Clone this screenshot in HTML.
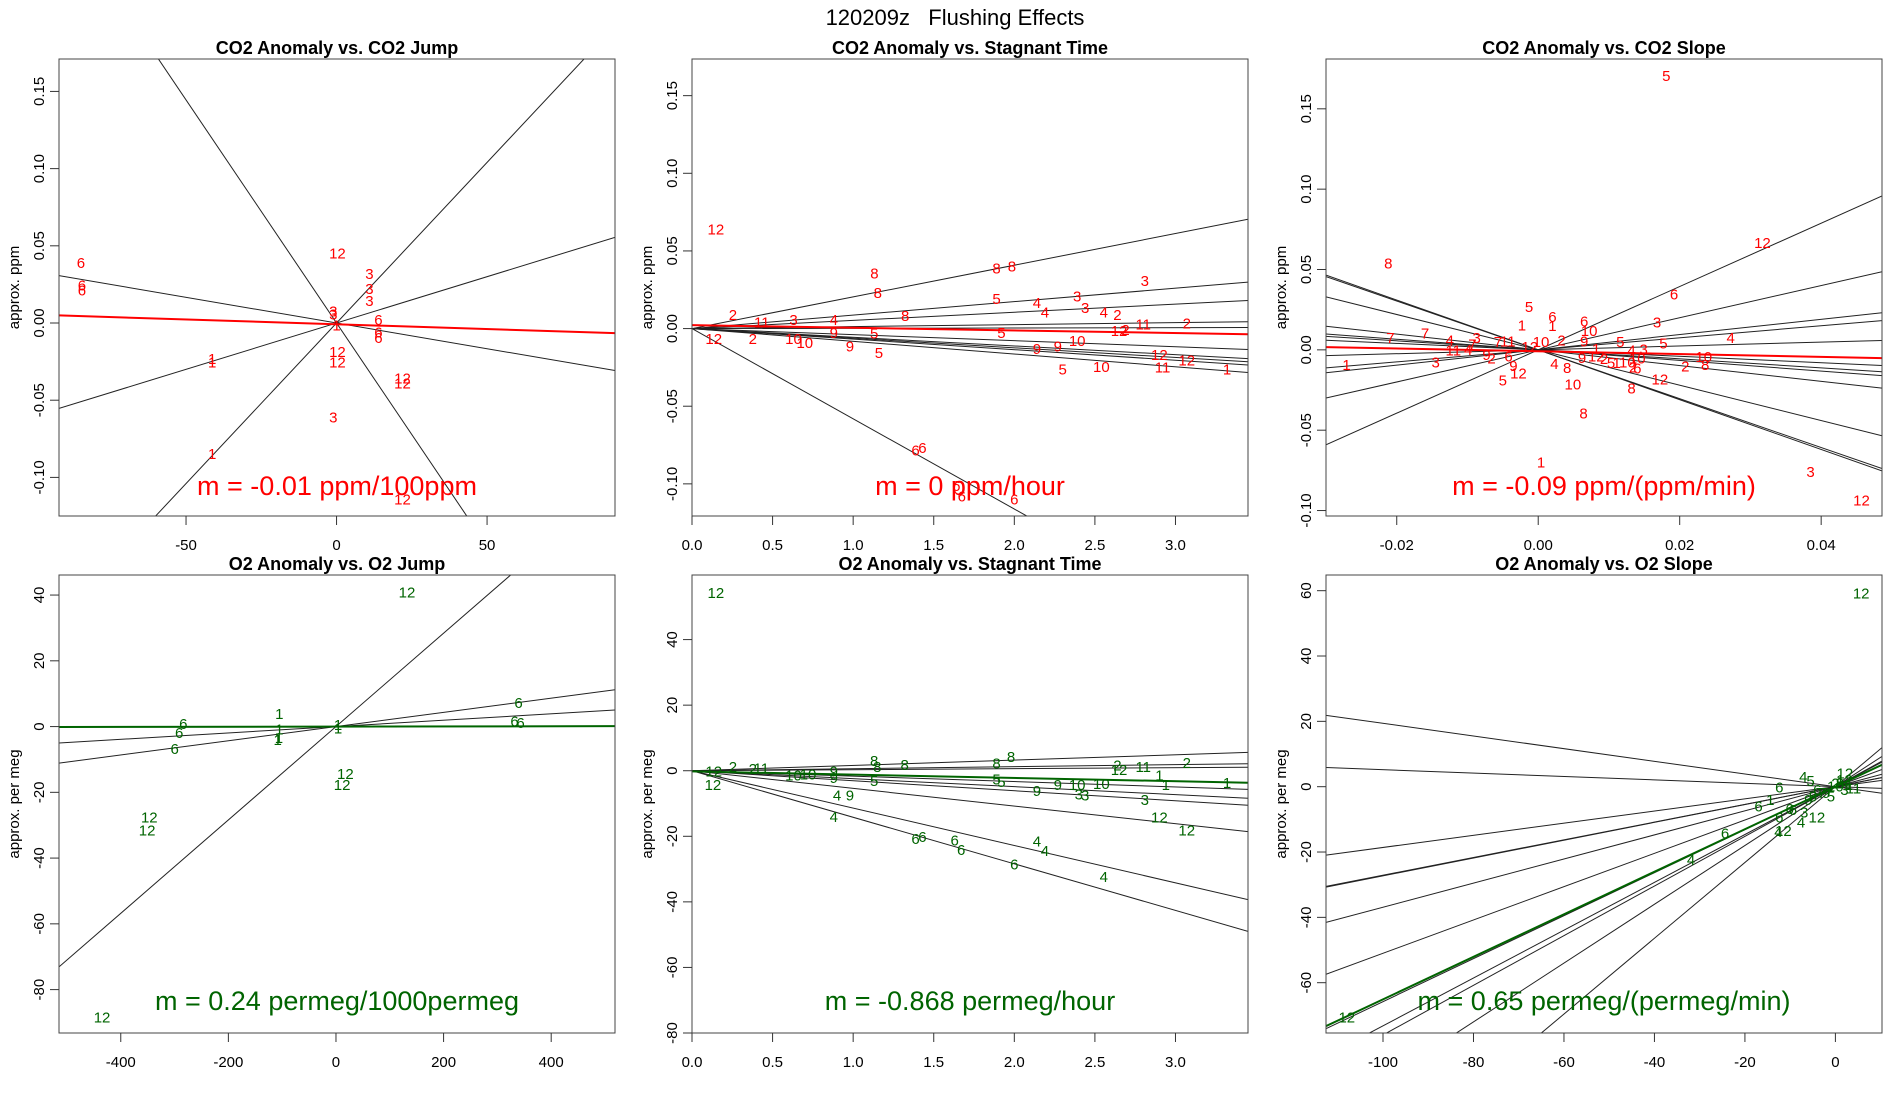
<!DOCTYPE html>
<html><head><meta charset="utf-8"><title>120209z Flushing Effects</title>
<style>
html,body{margin:0;padding:0;background:#fff;width:1900px;height:1100px;overflow:hidden;}
svg{display:block;font-family:"Liberation Sans",Arial,sans-serif;}
</style></head>
<body>
<svg id="fig" width="1900" height="1100" viewBox="0 0 1900 1100" xmlns="http://www.w3.org/2000/svg">
<rect width="1900" height="1100" fill="#fff"/>
<text x="955" y="25" font-size="22" text-anchor="middle" style="white-space:pre">120209z   Flushing Effects</text>
</svg>
<script>
// ---------- Panel 1: CO2 Anomaly vs CO2 Jump ----------
const p1Labels = ["6","6","6","12","3","3","3","3","3","1","6","6","6","1","1","12","12","12","12","3","1","12"];
const p1X = [-84.9,-84.6,-84.6,0.3,10.9,10.9,10.9,-1.1,-1.1,0,13.9,13.9,13.9,-41.3,-41.3,0.3,0.3,21.9,21.9,-1.1,-41.3,21.9];
const p1Y = [0.0388,0.0242,0.0212,0.0451,0.0319,0.0219,0.0144,0.0075,0.0055,-0.0016,0.0018,-0.0062,-0.0096,-0.0233,-0.0255,-0.0187,-0.0255,-0.0358,-0.0392,-0.0613,-0.0848,-0.1144];
const p1Slopes = [-0.00289,0.00208,0.0006,-0.000333];
const p1Ints = [0,0,0,0];
const p1Fit = [-0.000062,-0.0008];
const p1XTicks = [-50,0,50];
const p1YTicks = [-0.10,-0.05,0.00,0.05,0.10,0.15];

// ---------- Panel 2: CO2 Anomaly vs Stagnant Time ----------
const p2Labels = ["12","8","8","8","8","3","5","4","4","3","3","4","2","8","2","11","3","4","11","2","12","2","5","5","9","12","2","10","10","9","5","10","9","9","12","12","5","10","11","1","6","6","6","6","6"];
const p2X = [0.148,1.132,1.153,1.89,1.985,2.81,1.89,2.14,2.19,2.39,2.44,2.555,2.64,1.323,0.254,0.433,0.63,0.88,2.80,3.07,2.65,2.69,1.13,1.92,0.88,0.135,0.377,0.63,0.70,0.98,1.16,2.39,2.14,2.27,2.9,3.07,2.30,2.54,2.92,3.32,1.387,1.43,1.64,1.674,2.0];
const p2Y = [0.0638,0.0356,0.0229,0.0386,0.04,0.0306,0.019,0.0164,0.0103,0.0207,0.0131,0.0103,0.0087,0.0081,0.0087,0.0039,0.0055,0.0055,0.0026,0.0033,-0.0015,-0.0008,-0.0033,-0.0028,-0.0028,-0.0066,-0.0066,-0.0066,-0.0092,-0.0116,-0.0157,-0.0081,-0.0131,-0.0116,-0.017,-0.0207,-0.0262,-0.0247,-0.0251,-0.0262,-0.0786,-0.0769,-0.1015,-0.108,-0.110];
const p2Slopes = [0.0204,0.00867,0.00525,0.00127,0.0002,-0.0039,-0.0056,-0.0062,-0.0068,-0.0082,-0.0581];
const p2Ints = [0,0,0,0,0,0,0,0,0,0,0];
const p2Fit = [-0.0017,0.0022];
const p2XTicks = [0.0,0.5,1.0,1.5,2.0,2.5,3.0];
const p2YTicks = [-0.10,-0.05,0.00,0.05,0.10,0.15];

// ---------- Panel 3: CO2 Anomaly vs CO2 Slope ----------
const p3Labels = ["5","12","8","6","3","5","1","6","1","6","10","7","7","4","3","7","11","4","7","11","12","10","2","9","5","4","5","1","4","3","1","3","9","2","6","9","12","2","5","1","10","10","2","6","2","10","8","4","8","9","12","5","12","10","8","8","1","3","12"];
const p3X = [0.0181,0.0317,-0.0212,0.0192,0.0168,-0.0013,-0.0023,0.002,0.002,0.0065,0.0072,-0.0209,-0.016,-0.0125,-0.0087,-0.0093,-0.012,-0.0099,-0.0057,-0.0043,-0.0012,0.0004,0.0033,0.0065,0.0116,0.0272,0.0177,0.0082,0.0132,0.0149,-0.0271,-0.0145,-0.0073,-0.0066,-0.0042,0.0062,0.0082,0.0093,0.0103,0.0111,0.0126,0.014,0.0134,0.014,0.0208,0.0234,0.0236,0.0023,0.0041,-0.0035,-0.0028,-0.005,0.0172,0.0049,0.0132,0.0064,0.0004,0.0385,0.0457];
const p3Y = [0.1705,0.0665,0.0538,0.0344,0.0171,0.0266,0.015,0.0203,0.0148,0.0175,0.0116,0.0074,0.0101,0.0059,0.0074,0.0032,-0.0004,0,0.0049,0.0053,0.0017,0.0049,0.0059,0.0053,0.0049,0.0074,0.0038,0.0006,-0.0004,0.0002,-0.0095,-0.0078,-0.0032,-0.0053,-0.004,-0.0051,-0.004,-0.0057,-0.0082,-0.0082,-0.0078,-0.0053,-0.011,-0.0116,-0.0103,-0.0046,-0.0095,-0.0089,-0.0114,-0.0099,-0.0146,-0.019,-0.0184,-0.0215,-0.024,-0.0395,-0.070,-0.076,-0.0937];
const p3Slopes = [-1.52,-1.55,-1.10,1.97,1.0,-0.49,-0.33,-0.28,-0.20,0.12,0.375,0.475];
const p3Ints = [0,0,0,0,0,0,0,0,0,0,0,0];
const p3Fit = [-0.087,-0.0009];
const p3XTicks = [-0.02,0.00,0.02,0.04];
const p3YTicks = [-0.10,-0.05,0.00,0.05,0.10,0.15];

// ---------- Panel 4: O2 Anomaly vs O2 Jump ----------
const p4Labels = ["12","6","1","6","6","1","1","1","1","1","6","6","6","12","12","12","12","12"];
const p4X = [132,339.4,-105.3,-283.8,-291.4,-105.3,-108.3,-106,3.8,3.8,331.8,343,-299.8,17.5,11.4,-347,-351,-434.8];
const p4Y = [40.75,7.19,3.75,0.75,-1.93,-0.86,-4.07,-3.5,0.5,-0.6,1.5,1.07,-6.86,-14.4,-17.8,-27.7,-31.6,-88.5];
const p4Slopes = [0.142,0.0216,0.0097];
const p4Ints = [0,0,0];
const p4Fit = [0.00024,0];
const p4XTicks = [-400,-200,0,200,400];
const p4YTicks = [-80,-60,-40,-20,0,20,40];

// ---------- Panel 5: O2 Anomaly vs Stagnant Time ----------
const p5Labels = ["12","8","8","8","8","8","2","11","2","2","11","2","12","1","1","1","9","9","10","10","5","5","5","9","10","10","9","3","3","3","4","9","4","12","12","6","6","6","6","4","4","6","4","12","12"];
const p5X = [0.148,1.13,1.15,1.32,1.89,1.98,0.254,0.43,0.377,3.07,2.8,2.64,2.65,2.9,2.94,3.32,0.88,0.88,0.63,0.72,1.13,1.89,1.92,2.27,2.39,2.54,2.14,2.4,2.44,2.81,0.9,0.98,0.88,2.9,3.07,1.387,1.43,1.63,1.67,2.14,2.19,2.0,2.555,0.13,0.135];
const p5Y = [54.2,2.9,1.08,1.8,2.15,4.2,1.08,0.75,0.5,2.4,1.08,1.6,0.2,-1.4,-4.4,-3.8,-0.3,-2.26,-1.4,-1.1,-3.2,-2.7,-3.5,-4.4,-4.4,-4.1,-6.2,-7.3,-7.5,-8.9,-7.5,-7.5,-14.1,-14.3,-18.3,-20.75,-20.2,-21.3,-24.2,-21.6,-24.5,-28.6,-32.4,-4.3,-0.3];
const p5Slopes = [1.62,0.62,0.31,-1.65,-2.43,-3.05,-5.39,-11.4,-14.2];
const p5Ints = [0,0,0,0,0,0,0,0,0];
const p5Fit = [-1.0,-0.2];
const p5XTicks = [0.0,0.5,1.0,1.5,2.0,2.5,3.0];
const p5YTicks = [-80,-60,-40,-20,0,20,40];

// ---------- Panel 6: O2 Anomaly vs O2 Slope ----------
const p6Labels = ["12","12","4","6","6","1","6","6","4","12","4","12","6","6","3","4","5","12","6","9","10","8","3","1","5","7","11","2","12","8","9"];
const p6X = [5.7,-108,-31.9,-24.4,-12.4,-14.4,-17,-12.4,-12.6,-11.5,-7.6,-4.1,-10.1,-9.4,-6.9,-7.1,-5.5,2.1,-4,-2,0,1,2,3,-1,-3,4,0,2,-5,-6];
const p6Y = [59.1,-70.6,-22.4,-14.3,-0.3,-4.1,-6,-9.5,-13.8,-13.5,-10.9,-9.5,-6.8,-7.1,-7.9,2.9,1.8,4,-1,-2,0,1,-1,0.5,-3,-2,-0.5,1,2,-3,-4];
const p6Slopes = [-0.194,-0.052,0.186,0.271,0.273,0.369,0.51,0.658,0.732,0.76,0.90,1.16];
const p6Ints = [0,0,0,0,0,0,0,0,0,0,0,0];
const p6Fit = [0.651,0];
const p6XTicks = [-100,-80,-60,-40,-20,0];
const p6YTicks = [-60,-40,-20,0,20,40,60];

const NS = "http://www.w3.org/2000/svg";
const svg = document.getElementById('fig');
function mk(tag, attrs, parent){
  const e = document.createElementNS(NS, tag);
  for (const k in attrs) e.setAttribute(k, attrs[k]);
  (parent||svg).appendChild(e);
  return e;
}
function fmt(v, dec){ return v.toFixed(dec); }

function panel(id, box, dom, title, ylab, labels, xs, ys, slopes, ints, fit, xt, yt, xdec, ydec, color, mtext, mY){
  const [L,R,T,B] = box;
  const [xmin,xmax,ymin,ymax] = dom;
  const sx = v => L + (v - xmin) / (xmax - xmin) * (R - L);
  const sy = v => B - (v - ymin) / (ymax - ymin) * (B - T);
  const g = mk('g', {});
  
  
  const cp = mk('clipPath', {id: id + '-clip'}, g);
  mk('rect', {x:L, y:T, width:R-L, height:B-T}, cp);

  const tt = mk('text', {x:(L+R)/2, y:T-5, 'font-size':18, 'font-weight':'bold', 'text-anchor':'middle'}, g);
  tt.textContent = title;
  
  

  const yl = mk('text', {x:0, y:0, 'font-size':15, 'text-anchor':'middle', transform:'translate(' + (L-40) + ',' + ((T+B)/2) + ') rotate(-90)'}, g);
  yl.textContent = ylab;
  
  

  const lg = mk('g', {'clip-path':'url(#' + id + '-clip)'}, g);
  
  
  for (let i = 0; i < slopes.length; i++){
    const ln = mk('line', {x1:sx(xmin), y1:sy(ints[i] + slopes[i]*xmin), x2:sx(xmax), y2:sy(ints[i] + slopes[i]*xmax), stroke:'#222', 'stroke-width':1}, lg);
    
    
  }
  const fl = mk('line', {x1:sx(xmin), y1:sy(fit[1] + fit[0]*xmin), x2:sx(xmax), y2:sy(fit[1] + fit[0]*xmax), stroke:color, 'stroke-width':2}, lg);
  
  

  for (let i = 0; i < labels.length; i++){
    const t = mk('text', {x:sx(xs[i]), y:sy(ys[i]) + 5, 'font-size':15, fill:color, 'text-anchor':'middle'}, lg);
    t.textContent = labels[i];
    
    
  }

  const mt = mk('text', {x:(L+R)/2, y:mY, 'font-size':27, fill:color, 'text-anchor':'middle'}, g);
  mt.textContent = mtext;
  
  

  const fr = mk('rect', {x:L, y:T, width:R-L, height:B-T, fill:'none', stroke:'#444', 'stroke-width':1}, g);
  
  

  for (const v of xt){
    const x = sx(v);
    const tk = mk('line', {x1:x, y1:B, x2:x, y2:B+9, stroke:'#333'}, g);
    
    
    const tl = mk('text', {x:x, y:B+34, 'font-size':15, 'text-anchor':'middle'}, g);
    tl.textContent = fmt(v, xdec);
    
    
  }
  for (const v of yt){
    const y = sy(v);
    const tk = mk('line', {x1:L-9, y1:y, x2:L, y2:y, stroke:'#333'}, g);
    
    
    const tl = mk('text', {x:0, y:0, 'font-size':15, 'text-anchor':'middle', transform:'translate(' + (L-15) + ',' + y + ') rotate(-90)'}, g);
    tl.textContent = fmt(v, ydec);
    
    
  }
}

const RED = '#ff0000', GRN = '#006400';
panel('co2-jump', [59,615,59,516], [-92.2,92.5,-0.125,0.171], 'CO2 Anomaly vs. CO2 Jump', 'approx. ppm',
  p1Labels, p1X, p1Y, p1Slopes, p1Ints, p1Fit, p1XTicks, p1YTicks, 0, 2, RED, 'm = -0.01 ppm/100ppm', 495);
panel('co2-stagnant', [692,1248,59,516], [0,3.45,-0.1207,0.1736], 'CO2 Anomaly vs. Stagnant Time', 'approx. ppm',
  p2Labels, p2X, p2Y, p2Slopes, p2Ints, p2Fit, p2XTicks, p2YTicks, 1, 2, RED, 'm = 0 ppm/hour', 495);
panel('co2-slope', [1326,1882,59,516], [-0.030,0.0486,-0.1034,0.181], 'CO2 Anomaly vs. CO2 Slope', 'approx. ppm',
  p3Labels, p3X, p3Y, p3Slopes, p3Ints, p3Fit, p3XTicks, p3YTicks, 2, 2, RED, 'm = -0.09 ppm/(ppm/min)', 495);
panel('o2-jump', [59,615,575,1033], [-514.8,518.6,-93.2,46.1], 'O2 Anomaly vs. O2 Jump', 'approx. per meg',
  p4Labels, p4X, p4Y, p4Slopes, p4Ints, p4Fit, p4XTicks, p4YTicks, 0, 0, GRN, 'm = 0.24 permeg/1000permeg', 1010);
panel('o2-stagnant', [692,1248,575,1033], [0,3.45,-80,59.7], 'O2 Anomaly vs. Stagnant Time', 'approx. per meg',
  p5Labels, p5X, p5Y, p5Slopes, p5Ints, p5Fit, p5XTicks, p5YTicks, 1, 0, GRN, 'm = -0.868 permeg/hour', 1010);
panel('o2-slope', [1326,1882,575,1033], [-112.6,10.3,-75.4,64.8], 'O2 Anomaly vs. O2 Slope', 'approx. per meg',
  p6Labels, p6X, p6Y, p6Slopes, p6Ints, p6Fit, p6XTicks, p6YTicks, 0, 0, GRN, 'm = 0.65 permeg/(permeg/min)', 1010);
</script>
</body></html>
